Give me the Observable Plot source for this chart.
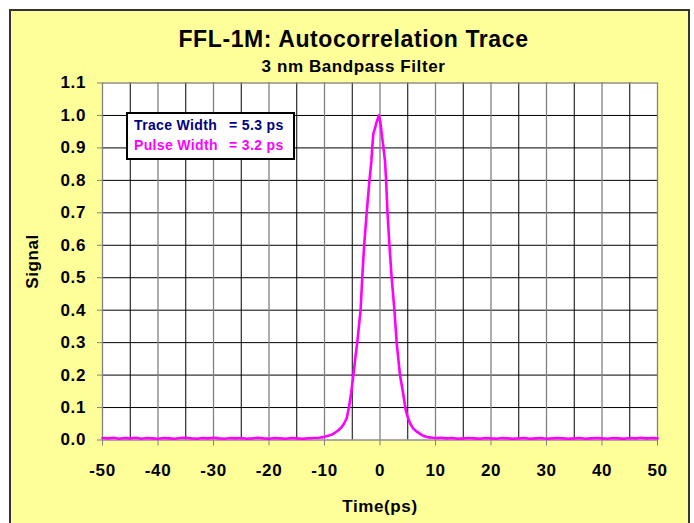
<!DOCTYPE html>
<html><head><meta charset="utf-8">
<script src="https://cdn.jsdelivr.net/npm/d3@7"></script>
<script src="https://cdn.jsdelivr.net/npm/@observablehq/plot@0.6"></script>
<style>
body{margin:0;width:694px;height:523px;overflow:hidden;background:#fff;font-family:"Liberation Sans",Arial,sans-serif;}
#box{position:absolute;left:9px;top:9px;width:677px;height:540px;background:#FFFF99;border:2px solid #333;}
#chart{position:absolute;left:0;top:0;}
#chart text{letter-spacing:0.6px;}
#chart g[aria-label="title"] text{letter-spacing:0.5px;}
#chart g[aria-label="subtitle"] text{letter-spacing:1.2px;}
#chart g[aria-label="ylabel"] text, #chart g[aria-label="xlabel"] text{letter-spacing:1.1px;}
#legend{position:absolute;left:126px;top:112px;width:165px;height:44px;background:#fff;border:2px solid #000;font-weight:bold;font-size:14px;letter-spacing:0.35px;line-height:14px;}
#legend div{position:absolute;white-space:nowrap;}
</style></head>
<body>
<div id="box"></div>
<div id="chart"></div>
<div id="legend"></div>
<script>
const titleText = "FFL-1M: Autocorrelation Trace";
const subtitleText = "3 nm Bandpass Filter";
const xLabel = "Time(ps)";
const yLabel = "Signal";
const legendRows = [
  {name: "Trace Width", value: "= 5.3 ps", color: "#000080"},
  {name: "Pulse Width", value: "= 3.2 ps", color: "#FF00FF"}
];
const xMajor = [-50,-40,-30,-20,-10,0,10,20,30,40,50];
const xMinor = [-45,-35,-25,-15,-5,5,15,25,35,45];
const yTicks = [0,0.1,0.2,0.3,0.4,0.5,0.6,0.7,0.8,0.9,1.0,1.1];

const time = [
  -50,-49,-48,-47,-46,-45,-44,-43,-42,-41,-40,-39,-38,-37,-36,-35,-34,-33,-32,-31,
  -30,-29,-28,-27,-26,-25,-24,-23,-22,-21,-20,-19,-18,-17,-16,-15,-14,-13,-12,-11,
  -10.5,-10,-9.5,-9,-8.5,-8,-7.5,-7,-6.5,-6,-5.6,-5.2,-4.8,-4.4,-4.1,-3.8,-3.5,-3.2,-2.85,-2.4,
  -1.9,-1.55,-1.4,-1.2,-0.9,-0.7,-0.4,-0.2,0.1,0.3,0.6,0.9,1.1,1.35,1.7,2.1,2.6,3.0,3.6,4.2,
  4.6,5.0,5.45,6.0,6.7,7.3,7.9,8.8,9.5,
  10,11,12,13,14,15,16,17,18,19,20,21,22,23,24,25,26,27,28,29,
  30,31,32,33,34,35,36,37,38,39,40,41,42,43,44,45,46,47,48,49,50
];
const signal = [
  0.006,0.005,0.007,0.004,0.006,0.005,0.007,0.004,0.006,0.005,0.004,0.006,0.005,0.004,0.006,0.007,0.005,0.004,0.006,0.005,
  0.007,0.005,0.004,0.006,0.005,0.006,0.004,0.005,0.007,0.005,0.004,0.006,0.005,0.004,0.006,0.005,0.004,0.005,0.006,0.007,
  0.008,0.010,0.012,0.015,0.018,0.024,0.030,0.038,0.050,0.067,0.100,0.145,0.200,0.260,0.300,0.350,0.400,0.500,0.600,0.700,
  0.800,0.860,0.900,0.944,0.960,0.975,0.990,1.000,0.975,0.944,0.903,0.860,0.800,0.700,0.600,0.500,0.400,0.300,0.200,0.140,
  0.095,0.070,0.050,0.035,0.025,0.018,0.012,0.008,0.007,
  0.006,0.007,0.005,0.006,0.004,0.005,0.006,0.005,0.004,0.006,0.005,0.004,0.006,0.005,0.004,0.005,0.006,0.004,0.005,0.006,
  0.004,0.005,0.006,0.005,0.004,0.005,0.006,0.004,0.005,0.006,0.005,0.004,0.006,0.005,0.004,0.006,0.005,0.007,0.005,0.006,0.005
];
const data = time.map((t, i) => ({t, s: signal[i]}));
const font = {fontFamily: "Liberation Sans, Arial, sans-serif", fontWeight: "bold"};

const chart = Plot.plot({
  width: 694, height: 523,
  marginLeft: 102, marginRight: 37, marginTop: 82.5, marginBottom: 83.5,
  style: {background: "transparent", overflow: "visible", fontFamily: font.fontFamily},
  x: {domain: [-50, 50]},
  y: {domain: [0, 1.1]},
  marks: [
    Plot.frame({fill: "white", stroke: null}),
    Plot.ruleY(yTicks.slice(1, -1), {stroke: "#000", strokeWidth: 1}),
    Plot.ruleX(xMinor, {stroke: "#000", strokeWidth: 1}),
    Plot.ruleX(xMajor.slice(1, -1), {stroke: "#808080", strokeWidth: 1.3}),
    Plot.frame({stroke: "#808080", strokeWidth: 1.3}),
    Plot.axisX({ticks: xMajor, tickSize: 6, tickPadding: 17.5, stroke: "#808080", color: "#000", fontSize: 17, fontWeight: "bold", label: null, tickFormat: d => String(d)}),
    Plot.axisY({ticks: yTicks, tickSize: 5, tickPadding: 11.5, stroke: "#808080", color: "#000", fontSize: 17, fontWeight: "bold", label: null, tickFormat: d3.format(".1f")}),
    Plot.line(data, {x: "t", y: "s", stroke: "#FF00FF", strokeWidth: 2.6}),
    Plot.text([titleText], {frameAnchor: "top", lineAnchor: "middle", textAnchor: "middle", dx: -26.5, dy: -43.2, fontSize: 23, ...font, fill: "#000", ariaLabel: "title"}),
    Plot.text([subtitleText], {frameAnchor: "top", lineAnchor: "middle", textAnchor: "middle", dx: -26.5, dy: -16.2, fontSize: 17, ...font, fill: "#000", ariaLabel: "subtitle"}),
    Plot.text([yLabel], {frameAnchor: "left", lineAnchor: "middle", textAnchor: "middle", dx: -70, rotate: -90, fontSize: 17, ...font, fill: "#000", ariaLabel: "ylabel"}),
    Plot.text([xLabel], {frameAnchor: "bottom", lineAnchor: "middle", textAnchor: "middle", dy: 67, fontSize: 17, ...font, fill: "#000", ariaLabel: "xlabel"})
  ]
});
document.getElementById("chart").appendChild(chart);

const legend = document.getElementById("legend");
legendRows.forEach((r, i) => {
  const a = document.createElement("div");
  a.textContent = r.name; a.style.color = r.color;
  a.style.left = "6px"; a.style.top = (3.5 + i * 20) + "px";
  const b = document.createElement("div");
  b.textContent = r.value; b.style.color = r.color;
  b.style.left = "101px"; b.style.top = (3.5 + i * 20) + "px";
  legend.appendChild(a); legend.appendChild(b);
});
</script>
</body></html>
